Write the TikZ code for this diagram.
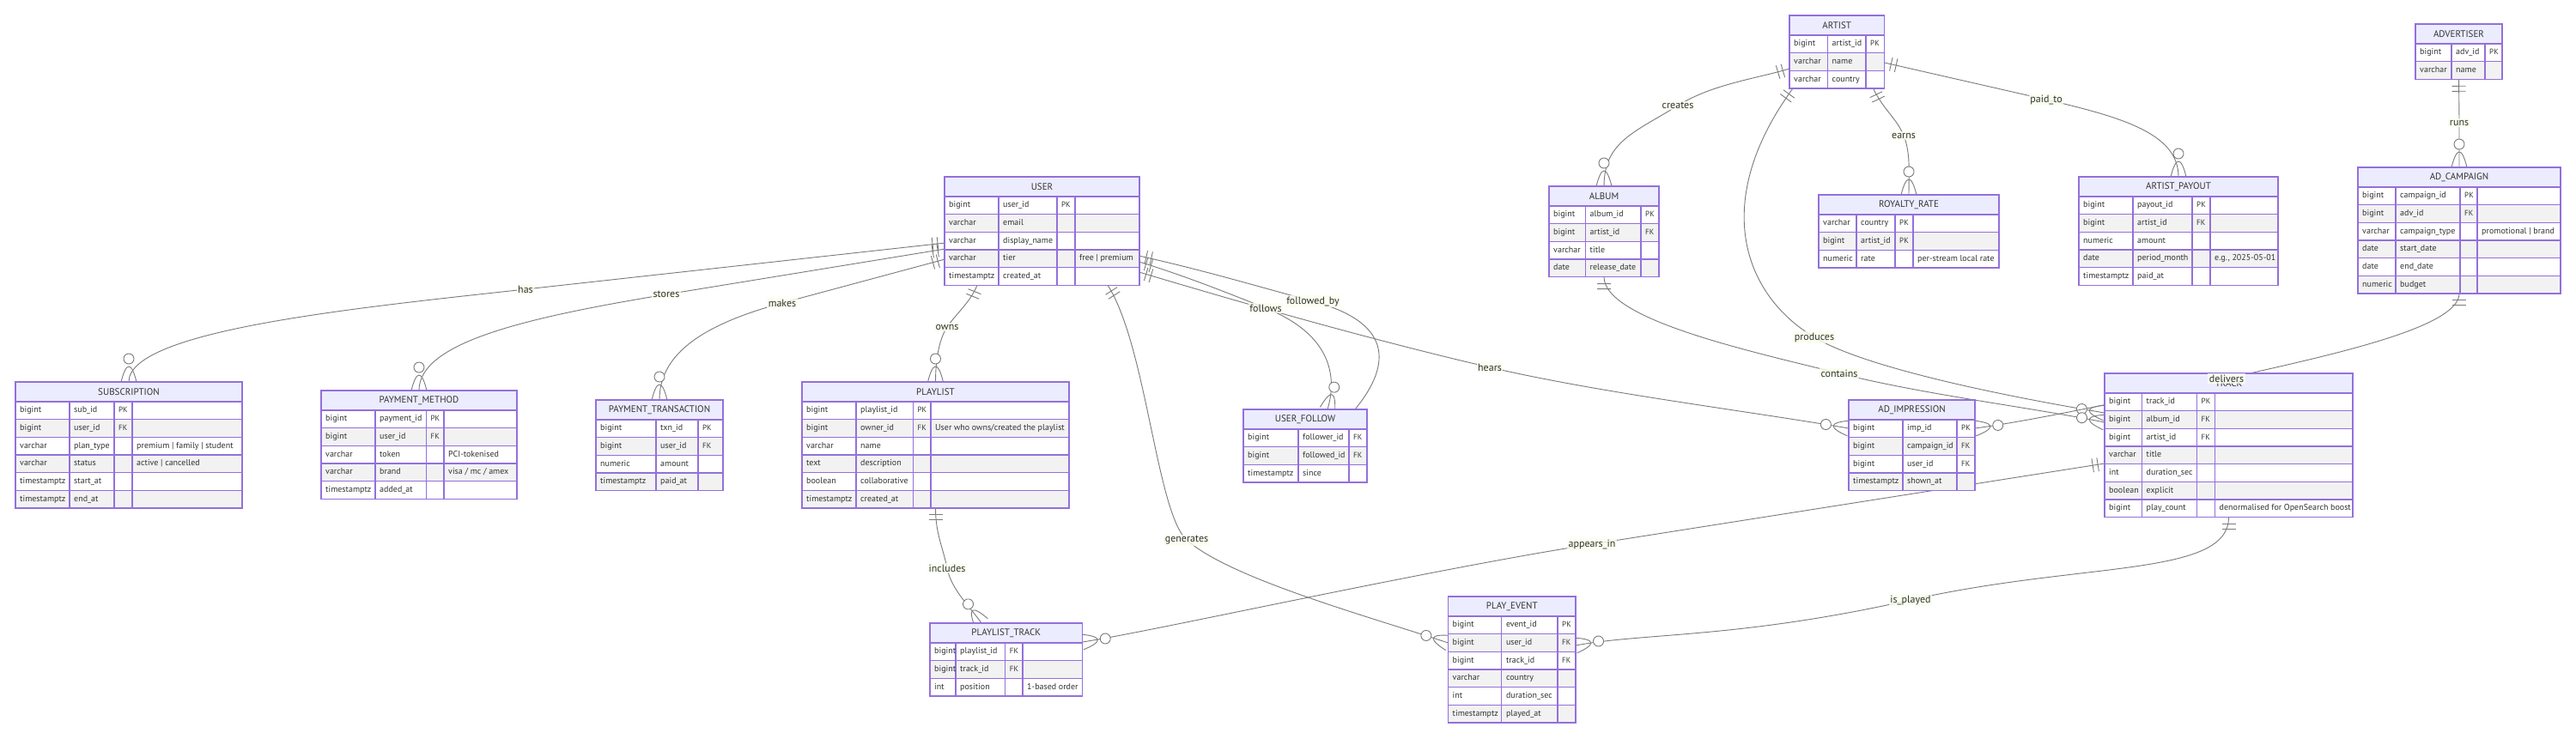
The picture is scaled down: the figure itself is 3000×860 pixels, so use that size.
\documentclass[tikz,border=0pt]{standalone}
\usepackage{fontspec}
\setmainfont{PT Sans}
\usetikzlibrary{calc,decorations.markings}

\definecolor{erborder}{HTML}{9370DB}
\definecolor{erhead}{HTML}{ECECFF}
\definecolor{errow}{HTML}{F2F2F2}
\definecolor{ertext}{HTML}{333333}
\definecolor{erline}{HTML}{7A7A7A}
\definecolor{erlabel}{RGB}{249,255,236}

\pgfdeclarelayer{background}
\pgfsetlayers{background,main}

% one entity table: name, left, top, four column widths, title, rows
\newcommand{\erentity}[9]{%
  \pgfmathsetmacro{\colA}{#2+#4}%
  \pgfmathsetmacro{\colB}{\colA+#5}%
  \pgfmathsetmacro{\colC}{\colB+#6}%
  \pgfmathsetmacro{\colD}{\colC+#7}%
  \pgfmathsetmacro{\totw}{#4+#5+#6+#7}%
  \foreach \eType/\eName/\eKey/\eNote [count=\ri] in {#9} {
    \pgfmathsetmacro{\rtop}{#3+23+(\ri-1)*20.65}
    \pgfmathtruncatemacro{\rodd}{mod(\ri,2)}
    \ifnum\rodd=1 \def\rowfill{white}\else\def\rowfill{errow}\fi
    \filldraw[erframe, fill=\rowfill] (#2,\rtop) rectangle (\colD,\rtop+20.65);
    \draw[erframe] (\colA,\rtop) -- ++(0,20.65) (\colB,\rtop) -- ++(0,20.65) (\colC,\rtop) -- ++(0,20.65);
    \node[cell] (#1-\ri-type) at (#2+5,\rtop+10.3) {\eType};
    \node[cell] (#1-\ri-name) at (\colA+5,\rtop+10.3) {\eName};
    \node[cell, keycell] (#1-\ri-key) at (\colB+5,\rtop+10.3) {\eKey};
    \node[cell] (#1-\ri-note) at (\colC+5,\rtop+10.3) {\eNote};
    \xdef\nrows{\ri}
  }
  \pgfmathsetmacro{\toth}{23+\nrows*20.65}%
  \node[erbox, minimum width=\totw, minimum height=\toth] (#1) at (#2,#3) {};
  \node[erhead, minimum width=\totw] (#1-title) at (#2,#3) {#8};
}

\begin{document}
\begin{tikzpicture}[x=1pt, y=-1pt,
    erframe/.style={draw=erborder, line width=1.2pt},
    erbox/.style={draw=erborder, line width=1.2pt, anchor=north west, inner sep=0pt, outer sep=0pt},
    erhead/.style={draw=erborder, fill=erhead, line width=1.2pt, anchor=north west, inner sep=0pt, outer sep=0pt,
        minimum height=23pt, font=\fontsize{11}{13}\selectfont, text=ertext},
    cell/.style={anchor=west, inner sep=0pt, text height=7pt, text depth=2pt, font=\fontsize{10}{12}\selectfont, text=ertext},
    keycell/.style={font=\fontsize{9}{11}\selectfont},
    rlabel/.style={fill=erlabel, fill opacity=0.8, text opacity=1, inner sep=1.5pt, font=\fontsize{12}{14}\selectfont, text=ertext},
    rel/.style={draw=erline, line width=0.9pt, postaction={decorate}, decoration={markings,
        mark=at position 0 with {\draw[erline, line width=0.9pt] (8pt,-8pt) -- (8pt,8pt) (14pt,-8pt) -- (14pt,8pt);},
        mark=at position 1 with {\draw[erline, line width=0.9pt] (0pt,9pt) .. controls (-24pt,3pt) and (-24pt,-3pt) .. (0pt,-9pt);
            \filldraw[draw=erline, fill=white, line width=0.9pt] (-27pt,0pt) circle (6pt);}}},
]
    \useasboundingbox (0,0) rectangle (3000,860);

    % Entities
    \erentity{artist}{2084}{18}{44.5}{44.5}{21.5}{0}{ARTIST}{bigint/artist\_id/PK/{}, varchar/name/{}/{}, varchar/country/{}/{}}
    \erentity{advertiser}{2813}{28}{42}{39}{20}{0}{ADVERTISER}{bigint/adv\_id/PK/{}, varchar/name/{}/{}}
    \erentity{user}{1100}{206}{63}{68}{21}{75}{USER}{bigint/user\_id/PK/{}, varchar/email/{}/{}, varchar/display\_name/{}/{},
        varchar/tier/{}/{free | premium}, timestamptz/created\_at/{}/{}}
    \erentity{album}{1804}{217}{42.5}{64.5}{21}{0}{ALBUM}{bigint/album\_id/PK/{}, bigint/artist\_id/FK/{}, varchar/title/{}/{},
        date/release\_date/{}/{}}
    \erentity{royalty}{2118}{227}{44}{45}{21}{100}{ROYALTY\_RATE}{varchar/country/PK/{}, bigint/artist\_id/PK/{},
        numeric/rate/{}/{per-stream local rate}}
    \erentity{payout}{2421}{206}{63}{69}{21}{79}{ARTIST\_PAYOUT}{bigint/payout\_id/PK/{}, bigint/artist\_id/FK/{},
        numeric/amount/{}/{}, date/period\_month/{}/{e.g., 2025-05-01}, timestamptz/paid\_at/{}/{}}
    \erentity{adcampaign}{2746}{195}{44}{75}{20}{97}{AD\_CAMPAIGN}{bigint/campaign\_id/PK/{}, bigint/adv\_id/FK/{},
        varchar/campaign\_type/{}/{promotional | brand}, date/start\_date/{}/{}, date/end\_date/{}/{}, numeric/budget/{}/{}}
    \erentity{subscription}{18}{445}{63}{52}{21}{128}{SUBSCRIPTION}{bigint/sub\_id/PK/{}, bigint/user\_id/FK/{},
        varchar/plan\_type/{}/{premium | family | student}, varchar/status/{}/{active | cancelled},
        timestamptz/start\_at/{}/{}, timestamptz/end\_at/{}/{}}
    \erentity{paymethod}{374}{455}{63}{59.5}{20.5}{85}{PAYMENT\_METHOD}{bigint/payment\_id/PK/{}, bigint/user\_id/FK/{},
        varchar/token/{}/{PCI-tokenised}, varchar/brand/{}/{visa / mc / amex}, timestamptz/added\_at/{}/{}}
    \erentity{paytxn}{694}{466}{70}{49}{29}{0}{PAYMENT\_TRANSACTION}{bigint/txn\_id/PK/{}, bigint/user\_id/FK/{},
        numeric/amount/{}/{}, timestamptz/paid\_at/{}/{}}
    \erentity{playlist}{934}{445}{63}{66.5}{20.5}{161}{PLAYLIST}{bigint/playlist\_id/PK/{},
        bigint/owner\_id/FK/{User who owns/created the playlist}, varchar/name/{}/{}, text/description/{}/{},
        boolean/collaborative/{}/{}, timestamptz/created\_at/{}/{}}
    \erentity{userfollow}{1448}{477}{64}{59}{21}{0}{USER\_FOLLOW}{bigint/follower\_id/FK/{}, bigint/followed\_id/FK/{},
        timestamptz/since/{}/{}}
    \erentity{adimpression}{2153}{466}{63}{63}{21}{0}{AD\_IMPRESSION}{bigint/imp\_id/PK/{}, bigint/campaign\_id/FK/{},
        bigint/user\_id/FK/{}, timestamptz/shown\_at/{}/{}}
    \erentity{track}{2451}{435}{43.5}{64}{21}{160.5}{TRACK}{bigint/track\_id/PK/{}, bigint/album\_id/FK/{},
        bigint/artist\_id/FK/{}, varchar/title/{}/{}, int/duration\_sec/{}/{}, boolean/explicit/{}/{},
        bigint/play\_count/{}/{denormalised for OpenSearch boost}}
    \erentity{plisttrack}{1083}{726}{30}{57.7}{20.3}{69.5}{PLAYLIST\_TRACK}{bigint/playlist\_id/FK/{}, bigint/track\_id/FK/{},
        int/position/{}/{1-based order}}
    \erentity{playevent}{1686.5}{695}{62.3}{65.2}{21}{0}{PLAY\_EVENT}{bigint/event\_id/PK/{}, bigint/user\_id/FK/{},
        bigint/track\_id/FK/{}, varchar/country/{}/{}, int/duration\_sec/{}/{}, timestamptz/played\_at/{}/{}}

    % Relationship labels
    \node[rlabel] (l-has) at (612,337) {has};
    \node[rlabel] (l-stores) at (776,343) {stores};
    \node[rlabel] (l-makes) at (911,353) {makes};
    \node[rlabel] (l-owns) at (1103,381) {owns};
    \node[rlabel] (l-follows) at (1474,359) {follows};
    \node[rlabel] (l-followedby) at (1529,351) {followed\_by};
    \node[rlabel] (l-hears) at (1735,428) {hears};
    \node[rlabel] (l-generates) at (1382,629) {generates};
    \node[rlabel] (l-includes) at (1103,662) {includes};
    \node[rlabel] (l-creates) at (1954,123) {creates};
    \node[rlabel] (l-earns) at (2217,158) {earns};
    \node[rlabel] (l-paidto) at (2383,116) {paid\_to};
    \node[rlabel] (l-runs) at (2864,143) {runs};
    \node[rlabel] (l-produces) at (2113,393) {produces};
    \node[rlabel] (l-contains) at (2142,435) {contains};
    \node[rlabel] (l-delivers) at (2593,441) {delivers};
    \node[rlabel] (l-appears) at (1854,634) {appears\_in};
    \node[rlabel] (l-isplayed) at (2225,699) {is\_played};

    % Relationships
    \begin{pgfonlayer}{background}
    \fill[white] (0,0) rectangle (3000,860);
    \draw[rel] ($(user.west)+(0,14)$) -- (l-has.center) .. controls +(-200,22) and +(0,-60) .. (subscription.north);
    \draw[rel] ($(user.west)+(0,21)$) -- (l-stores.center) .. controls +(-170,28) and +(0,-55) .. (paymethod.north);
    \draw[rel] ($(user.west)+(0,33)$) -- (l-makes.center) .. controls +(-100,27) and +(0,-50) .. (paytxn.north);
    \draw[rel] ($(user.south west)+(38,0)$) .. controls +(-8,20) and +(10,-15) .. (l-owns.center)
        .. controls +(-8,12) and +(0,-30) .. (playlist.north);
    \draw[rel] ($(user.south west)+(190,0)$) .. controls +(45,70) and +(-35,-31.5) .. (l-generates.center)
        .. controls +(50,45) and +(-90,-30) .. ($(playevent.north west)+(0,54)$);
    \draw[rel] ($(user.east)+(0,36)$) .. controls +(55,17) and +(-45,-18) .. (l-follows.center)
        .. controls +(75,30) and +(12,-40) .. ($(userfollow.north west)+(98,0)$);
    \draw[rel] ($(user.east)+(0,29)$) .. controls +(80,18) and +(-60,-16) .. (l-followedby.center)
        .. controls +(90,24) and +(45,-55) .. ($(userfollow.north west)+(130,0)$);
    \draw[rel] ($(user.east)+(0,48)$) .. controls +(120,36) and +(-130,-30) .. (l-hears.center)
        .. controls +(130,30) and +(-130,-22) .. ($(adimpression.north west)+(0,33)$);
    \draw[rel] (playlist.south) .. controls +(0,30) and +(-5,-25) .. (l-includes.center)
        .. controls +(5,25) and +(-14,-20) .. ($(plisttrack.north west)+(60,0)$);
    \draw[rel] ($(artist.north west)+(0,62)$) .. controls +(-40,12) and +(40,-25) .. (l-creates.center)
        .. controls +(-50,31) and +(0,-52) .. (album.north);
    \draw[rel] ($(artist.south west)+(4,0)$) .. controls +(-95,130) and +(-85,-51) .. (l-produces.center)
        .. controls +(70,42) and +(-60,-10) .. ($(track.north west)+(0,46)$);
    \draw[rel] ($(artist.south east)+(-13,0)$) .. controls +(12,25) and +(-8,-20) .. (l-earns.center)
        .. controls +(8,20) and +(0,-28) .. (royalty.north);
    \draw[rel] ($(artist.north east)+(0,55)$) -- (l-paidto.center) .. controls +(90,21) and +(0,-50) .. (payout.north);
    \draw[rel] (album.south) .. controls +(0,50) and +(-100,-25) .. (l-contains.center)
        .. controls +(100,25) and +(-90,-18) .. ($(track.north west)+(0,57)$);
    \draw[rel] (advertiser.south) -- (l-runs.center) -- (adcampaign.north);
    \draw[rel] (adcampaign.south) .. controls +(0,40) and +(120,-27) .. (l-delivers.center)
        .. controls +(-120,27) and +(60,-8) .. ($(adimpression.north east)+(0,33)$);
    \draw[rel] ($(track.north west)+(0,105)$) -- (l-appears.center) .. controls +(-200,31.5) and +(80,-12)
        .. ($(plisttrack.north east)+(0,22)$);
    \draw[rel] (track.south) .. controls +(0,70) and +(200,-45) .. (l-isplayed.center)
        .. controls +(-200,45) and +(80,-15) .. ($(playevent.north east)+(0,57)$);
    \end{pgfonlayer}
\end{tikzpicture}
\end{document}
